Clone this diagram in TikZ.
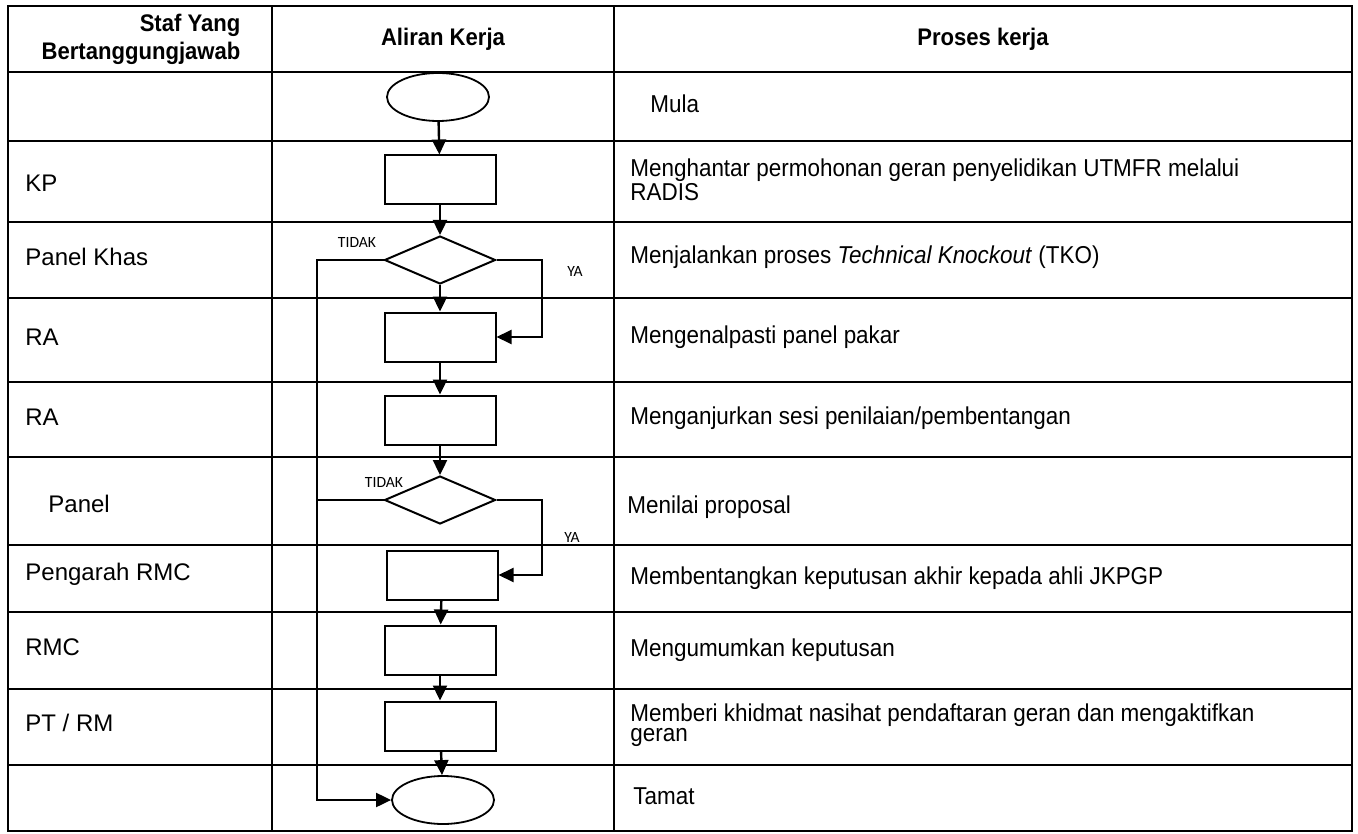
\documentclass[tikz,border=0pt]{standalone}
\usepackage{fontspec}
\setmainfont{Liberation Sans}
\newfontfamily\narrowfont[FakeStretch=0.92]{Liberation Sans}
\newfontfamily\smallfont{Carlito}
\usetikzlibrary{positioning}
\usetikzlibrary{shapes.geometric}
\usetikzlibrary{arrows.meta}

\begin{document}
\begin{tikzpicture}[
        x = 0.5pt, y = -0.5pt,
        box/.style = {
            draw,
            rectangle,
            minimum width = 55.5pt,
            minimum height = 24.5pt,
            inner sep = 0pt,
            line width = 1pt
        },
        decision/.style = {
            draw,
            diamond,
            minimum width = 55.5pt,
            minimum height = 24pt,
            inner sep = 0pt,
            line width = 1pt
        },
        terminal/.style = {
            draw,
            ellipse,
            minimum width = 51pt,
            minimum height = 24pt,
            inner sep = 0pt,
            line width = 0.9pt
        },
        flow/.style = {-{Triangle[length=7.5pt, width=7pt]}, line width = 1.2pt},
        staf/.style = {anchor=west, inner sep=0pt, font=\fontsize{12}{14}\selectfont},
        proses/.style = {anchor=west, inner sep=0pt, align=left, font=\narrowfont\fontsize{12.2}{9.9}\selectfont},
        head/.style = {inner sep=0pt, font=\narrowfont\bfseries\fontsize{12}{14}\selectfont},
        answer/.style = {inner sep=0pt, font=\smallfont\fontsize{7.8}{9}\selectfont}
        ]
%
        \useasboundingbox (0,0) rectangle (1358,834);
%
% table
        \draw[line width = 1.1pt] (8,6) rectangle (1352,831);
        \draw[line width = 1.1pt] (272,6) -- (272,831);
        \draw[line width = 1.1pt] (614,6) -- (614,831);
        \foreach \y in {72,141,222,298,382,457,545,612,689,765}
            \draw[line width = 1.1pt] (8,\y) -- (1352,\y);
%
% header
        \node[head, align=right] (h1) at (141,39) {Staf Yang\\Bertanggungjawab};
        \node[head] (h2) at (443,39) {Aliran Kerja};
        \node[head] (h3) at (983,39) {Proses kerja};
%
% staf
        \node[staf] (s2) at (25,183) {KP};
        \node[staf] (s3) at (25,257) {Panel Khas};
        \node[staf] (s4) at (25,337) {RA};
        \node[staf] (s5) at (25,417) {RA};
        \node[staf] (s6) at (48,504) {Panel};
        \node[staf] (s7) at (25,574) {Pengarah RMC};
        \node[staf] (s8) at (25,647) {RMC};
        \node[staf] (s9) at (25,723) {PT / RM};
%
% proses
        \node[proses] (p1) at (650,104) {Mula};
        \node[proses] (p2) at (630,180) {Menghantar permohonan geran penyelidikan UTMFR melalui\\RADIS};
        \node[proses] (p3) at (630,257) {Menjalankan proses \textit{Technical Knockout} (TKO)};
        \node[proses] (p4) at (630,337) {Mengenalpasti panel pakar};
        \node[proses] (p5) at (630,418) {Menganjurkan sesi penilaian/pembentangan};
        \node[proses] (p6) at (627,507) {Menilai proposal};
        \node[proses] (p7) at (630,578) {Membentangkan keputusan akhir kepada ahli JKPGP};
        \node[proses] (p8) at (630,650) {Mengumumkan keputusan};
        \node[proses] (p9) at (630,725) {Memberi khidmat nasihat pendaftaran geran dan mengaktifkan\\geran};
        \node[proses] (p10) at (633,796) {Tamat};
%
% aliran
        \node[terminal] (mula) at (438,97) {};
        \node[box] (kp) at (440,180) {};
        \node[decision] (tko) at (440,260) {};
        \node[box] (pakar) at (440,337) {};
        \node[box] (sesi) at (440,420) {};
        \node[decision] (nilai) at (440,500) {};
        \node[box] (bentang) at (442,575) {};
        \node[box] (umum) at (440,650) {};
        \node[box] (nasihat) at (440,726) {};
        \node[terminal] (tamat) at (443,800) {};
%
        \coordinate (j1) at (317,260);
        \coordinate (j2) at (317,500);
%
        \node[answer] (t1) at (357,242) {TIDAK};
        \node[answer] (y1) at (575,271) {YA};
        \node[answer] (t2) at (384,482) {TIDAK};
        \node[answer] (y2) at (572,537) {YA};
%
        \draw[flow] (mula) -- (kp);
        \draw[flow] (kp) -- (tko);
        \draw[flow] (tko) -- (pakar);
        \draw[flow] (pakar) -- (sesi);
        \draw[flow] (sesi) -- (nilai);
        \draw[flow] (bentang) -- (umum);
        \draw[flow] (umum) -- (nasihat);
        \draw[flow] (nasihat) -- (tamat);
%
        \draw[flow, line width = 1pt] (tko.east) -- ++(45,0) |- (pakar.east);
        \draw[flow, line width = 1pt] (nilai.east) -- ++(45,0) |- (bentang.east);
        \draw[flow, line width = 1pt] (tko.west) -- (j1) |- (tamat.west);
        \draw[line width = 1pt] (nilai.west) -- (j2);
%
    \end{tikzpicture}
\end{document}
